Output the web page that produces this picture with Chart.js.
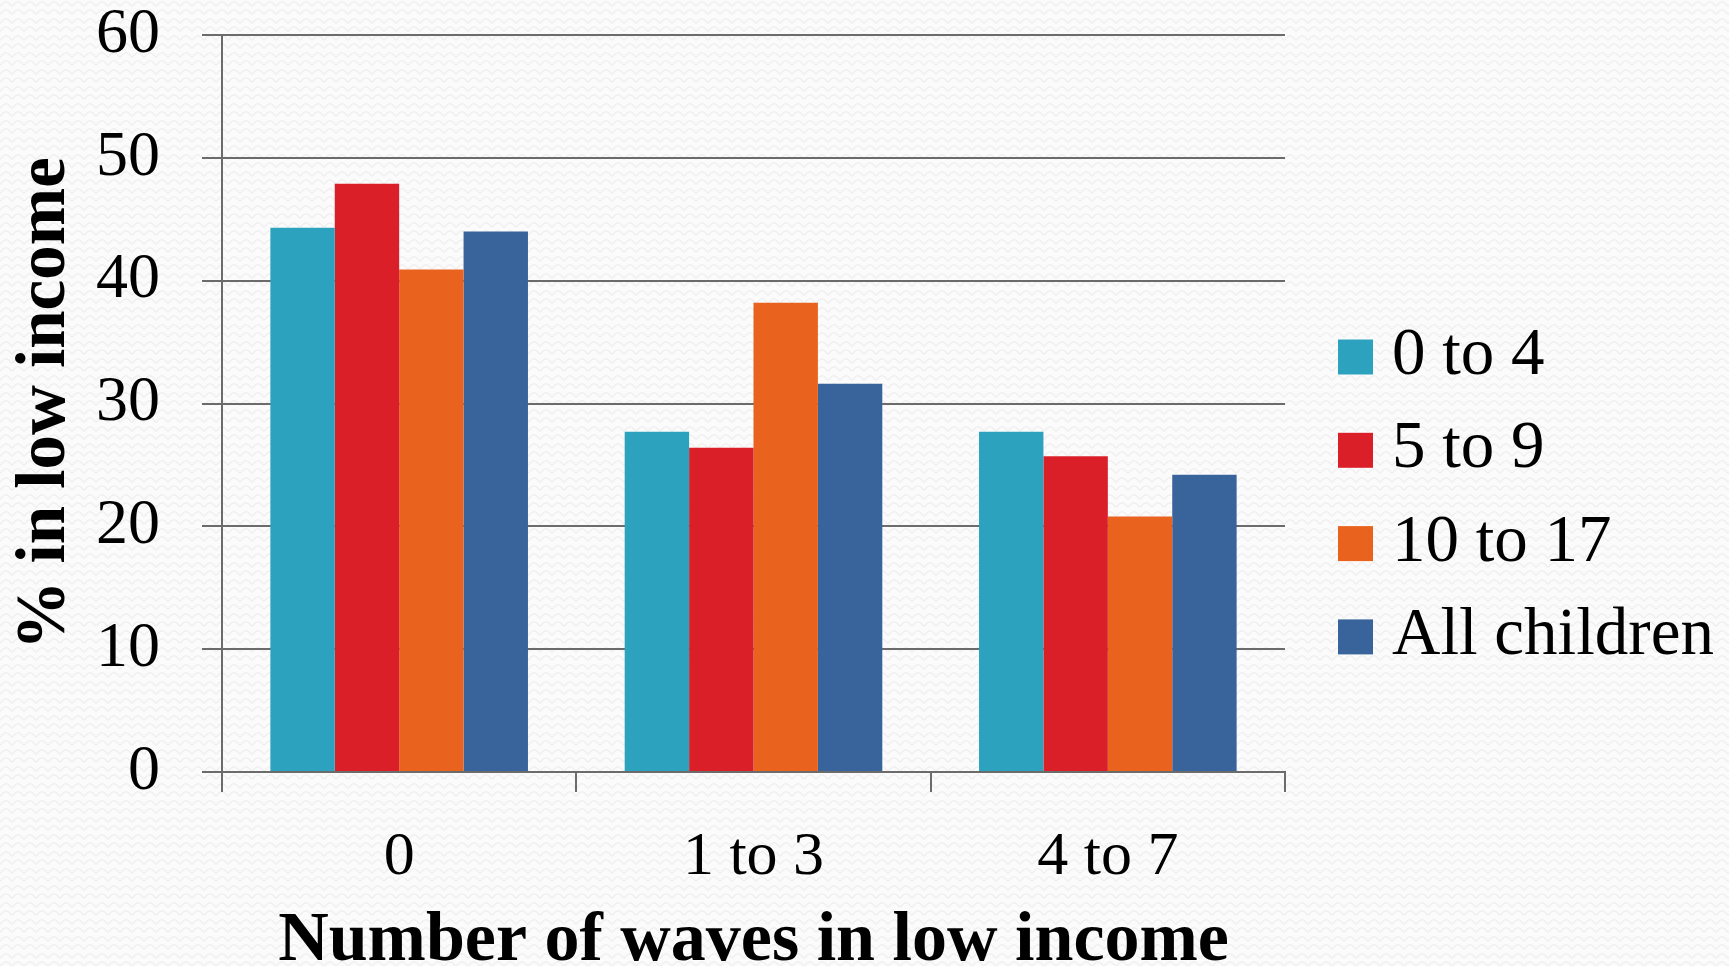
<!DOCTYPE html>
<html>
<head>
<meta charset="utf-8">
<script src="https://cdn.jsdelivr.net/npm/chart.js@4.4.1/dist/chart.umd.min.js"></script>
<style>
  html, body {
    margin: 0; padding: 0; overflow: hidden;
    background-color: #fbfbfb;
    /* faint zigzag paper texture */
    background-image: url("data:image/svg+xml;utf8,<svg xmlns='http://www.w3.org/2000/svg' width='12' height='8.5'><path d='M0 6 L3 3 L6 1.5 L9 3 L12 6' fill='none' stroke='%23f0f0f0' stroke-width='1.4'/></svg>");
    background-repeat: repeat;
  }
  canvas { display: block; }
</style>
</head>
<body>
<canvas id="chart" width="1729" height="966"></canvas>
<script>
// Share of children in low income, by number of waves spent in low income
const categories = ['0', '1 to 3', '4 to 7'];
const seriesNames = ['0 to 4', '5 to 9', '10 to 17', 'All children'];
const age0to4 = [44.3, 27.7, 27.7];
const age5to9 = [47.9, 26.4, 25.7];
const age10to17 = [40.9, 38.2, 20.8];
const allChildren = [44.0, 31.6, 24.2];
const yTickValues = [0, 10, 20, 30, 40, 50, 60];

const seriesColors = ['#2ca2be', '#da1f28', '#e9631f', '#38649b'];
const serif = '"Liberation Serif", "DejaVu Serif", serif';
const gridColor = '#6b6b6b';

// Legend drawn beside the plot: square swatch followed by the series name
const sideLegend = {
  id: 'sideLegend',
  afterDraw(chart) {
    const ctx = chart.ctx;
    ctx.save();
    ctx.font = '67px ' + serif;
    ctx.textBaseline = 'alphabetic';
    ctx.textAlign = 'left';
    chart.data.datasets.forEach((ds, i) => {
      const cy = 357 + i * 93.3;
      ctx.fillStyle = ds.backgroundColor;
      ctx.fillRect(1338, cy - 17.5, 35, 35);
      ctx.fillStyle = '#000';
      ctx.fillText(ds.label, 1392, cy + 17);
    });
    ctx.restore();
  }
};

const seriesValues = [age0to4, age5to9, age10to17, allChildren];

new Chart(document.getElementById('chart'), {
  type: 'bar',
  data: {
    labels: categories,
    datasets: seriesNames.map((name, i) => ({
      label: name,
      data: seriesValues[i],
      backgroundColor: seriesColors[i],
      borderWidth: 0,
      barPercentage: 1.0,
      categoryPercentage: 0.727
    }))
  },
  options: {
    responsive: false,
    animation: false,
    devicePixelRatio: 1,
    layout: { padding: { top: 35, right: 444, bottom: 0, left: 0 } },
    plugins: {
      legend: { display: false },
      tooltip: { enabled: false }
    },
    scales: {
      x: {
        grid: {
          display: true,
          drawOnChartArea: false,
          drawTicks: true,
          tickLength: 20,
          color: gridColor,
          lineWidth: 2,
          offset: true
        },
        border: { display: true, color: gridColor, width: 2 },
        ticks: {
          color: '#000',
          padding: 35,
          font: { family: serif, size: 62, lineHeight: 1.0 }
        },
        title: {
          display: true,
          text: 'Number of waves in low income',
          color: '#000',
          padding: { top: -10, bottom: -4 },
          font: { family: serif, size: 70, weight: 'bold', lineHeight: 0.8 }
        }
      },
      y: {
        min: 0,
        max: 60,
        afterBuildTicks(scale) {
          scale.ticks = yTickValues.map(v => ({ value: v }));
        },
        afterFit(scale) {
          // the top label may overhang the plot edge
          scale.paddingTop = 0;
          scale.paddingBottom = 0;
        },
        grid: {
          color: gridColor,
          lineWidth: 2,
          tickLength: 20,
          drawTicks: true
        },
        border: { display: true, color: gridColor, width: 2 },
        ticks: {
          color: '#000',
          padding: 42,
          font: { family: serif, size: 64, lineHeight: 1.0 }
        },
        title: {
          display: true,
          text: '% in low income',
          color: '#000',
          padding: { top: 12, bottom: -27 },
          font: { family: serif, size: 69, weight: 'bold', lineHeight: 1.0 }
        }
      }
    }
  },
  plugins: [sideLegend]
});
</script>
</body>
</html>
